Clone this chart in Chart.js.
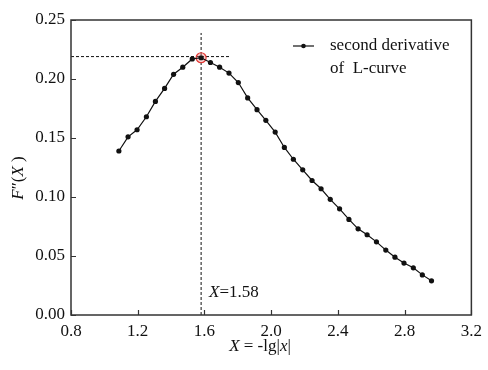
<!DOCTYPE html>
<html>
<head>
<meta charset="utf-8">
<script src="https://cdn.jsdelivr.net/npm/chart.js@4.4.1/dist/chart.umd.min.js"></script>
<style>
  html, body { margin: 0; padding: 0; background: #fff; }
  canvas { display: block; }
</style>
</head>
<body>
<canvas id="chart" width="488" height="370"></canvas>
<script>
// values
const xValues = [1.087, 1.142, 1.196, 1.252, 1.306, 1.361, 1.415, 1.470, 1.527, 1.580,
    1.636, 1.691, 1.747, 1.803, 1.859, 1.915, 1.968, 2.024, 2.079, 2.133,
    2.189, 2.245, 2.299, 2.354, 2.410, 2.466, 2.521, 2.575, 2.631, 2.687,
    2.742, 2.796, 2.852, 2.906, 2.961];
const yValues = [0.139, 0.151, 0.157, 0.168, 0.181, 0.192, 0.204, 0.210, 0.217, 0.218,
    0.214, 0.210, 0.205, 0.197, 0.184, 0.174, 0.165, 0.155, 0.142, 0.132,
    0.123, 0.114, 0.107, 0.098, 0.090, 0.081, 0.073, 0.068, 0.062, 0.055,
    0.049, 0.044, 0.040, 0.034, 0.029];
const peakX = 1.58;
const peakY = 0.218;
const guideY = 0.219;
const guideXEnd = 1.75;
const guideYTop = 0.239;
const xTicks = [0.8, 1.2, 1.6, 2.0, 2.4, 2.8, 3.2];
const yTicks = [0.00, 0.05, 0.10, 0.15, 0.20, 0.25];

const FONT = '"Liberation Serif", "Times New Roman", serif';
const INK = '#111';

// draws a row of text pieces, some italic
function drawPieces(ctx, pieces, x, y, size) {
    let cx = x;
    pieces.forEach(p => {
        ctx.font = (p.italic ? 'italic ' : '') + size + 'px ' + FONT;
        ctx.fillText(p.text, cx, y);
        cx += ctx.measureText(p.text).width;
    });
}
function piecesWidth(ctx, pieces, size) {
    let w = 0;
    pieces.forEach(p => {
        ctx.font = (p.italic ? 'italic ' : '') + size + 'px ' + FONT;
        w += ctx.measureText(p.text).width;
    });
    return w;
}

const decorations = {
    id: 'decorations',
    afterDatasetsDraw(chart) {
        const ctx = chart.ctx;
        const area = chart.chartArea;
        const xs = chart.scales.x;
        const ys = chart.scales.y;
        ctx.save();

        // frame
        ctx.strokeStyle = '#333';
        ctx.lineWidth = 1.5;
        ctx.strokeRect(area.left, area.top, area.right - area.left, area.bottom - area.top);

        // inward ticks
        ctx.lineWidth = 1.2;
        ctx.beginPath();
        xTicks.forEach(v => {
            const px = Math.round(xs.getPixelForValue(v)) + 0.5;
            ctx.moveTo(px, area.bottom);
            ctx.lineTo(px, area.bottom - 5);
        });
        yTicks.forEach(v => {
            const py = Math.round(ys.getPixelForValue(v)) + 0.5;
            ctx.moveTo(area.left, py);
            ctx.lineTo(area.left + 5, py);
        });
        ctx.stroke();

        ctx.fillStyle = INK;
        ctx.textBaseline = 'middle';

        // legend
        const ly = 46;
        ctx.strokeStyle = INK;
        ctx.lineWidth = 1.2;
        ctx.beginPath();
        ctx.moveTo(293, ly);
        ctx.lineTo(314, ly);
        ctx.stroke();
        ctx.beginPath();
        ctx.arc(303.5, ly, 2.3, 0, Math.PI * 2);
        ctx.fill();
        ctx.textAlign = 'left';
        ctx.font = '17px ' + FONT;
        ctx.fillText('second derivative', 330, ly);
        ctx.fillText('of  L-curve', 330, ly + 23);

        // annotation at the peak position
        drawPieces(ctx, [{ text: 'X', italic: true }, { text: '=1.58' }], 209, 293, 17);

        // x axis title
        const xt = [{ text: 'X', italic: true }, { text: ' = -lg|' }, { text: 'x', italic: true }, { text: '|' }];
        const xw = piecesWidth(ctx, xt, 17);
        drawPieces(ctx, xt, 260 - xw / 2, 347, 17);

        // y axis title
        const yt = [{ text: 'F', italic: true }, { text: '\u2033(' }, { text: 'X', italic: true }, { text: ' )' }];
        const yw = piecesWidth(ctx, yt, 17);
        ctx.translate(19, 178);
        ctx.rotate(-Math.PI / 2);
        drawPieces(ctx, yt, -yw / 2, 0, 17);

        ctx.restore();
    }
};

const curve = xValues.map((x, i) => ({ x: x, y: yValues[i] }));

new Chart(document.getElementById('chart'), {
    type: 'scatter',
    data: {
        datasets: [
            {
                label: 'second derivative of L-curve',
                data: curve,
                showLine: true,
                borderColor: INK,
                backgroundColor: INK,
                borderWidth: 1.2,
                pointRadius: 2.6,
                pointBorderWidth: 0,
                order: 0
            },
            {
                label: 'peak',
                data: [{ x: peakX, y: peakY }],
                borderColor: '#e53935',
                backgroundColor: 'rgba(240, 120, 120, 0.35)',
                borderWidth: 1.2,
                pointRadius: 5,
                order: 1
            },
            {
                label: 'vertical guide',
                data: [{ x: peakX, y: 0 }, { x: peakX, y: guideYTop }],
                showLine: true,
                borderColor: INK,
                borderWidth: 1,
                borderDash: [3, 2],
                pointRadius: 0,
                order: 2
            },
            {
                label: 'horizontal guide',
                data: [{ x: 0.8, y: guideY }, { x: guideXEnd, y: guideY }],
                showLine: true,
                borderColor: INK,
                borderWidth: 1,
                borderDash: [3, 2],
                pointRadius: 0,
                order: 2
            }
        ]
    },
    options: {
        responsive: false,
        animation: false,
        layout: { padding: { top: 20, right: 16, left: 0, bottom: 0 } },
        plugins: { legend: { display: false }, tooltip: { enabled: false } },
        scales: {
            x: {
                type: 'linear',
                min: 0.8,
                max: 3.2,
                afterBuildTicks: scale => { scale.ticks = xTicks.map(v => ({ value: v })); },
                afterFit: scale => { scale.height = 55; },
                grid: { display: false, drawTicks: false },
                border: { display: false },
                ticks: {
                    padding: 6,
                    color: INK,
                    font: { family: FONT, size: 17 },
                    callback: v => v.toFixed(1)
                }
            },
            y: {
                type: 'linear',
                min: 0,
                max: 0.25,
                afterBuildTicks: scale => { scale.ticks = yTicks.map(v => ({ value: v })); },
                afterFit: scale => { scale.width = 71; },
                grid: { display: false, drawTicks: false },
                border: { display: false },
                ticks: {
                    padding: 6,
                    color: INK,
                    font: { family: FONT, size: 17 },
                    callback: v => v.toFixed(2)
                }
            }
        }
    },
    plugins: [decorations]
});
</script>
</body>
</html>
